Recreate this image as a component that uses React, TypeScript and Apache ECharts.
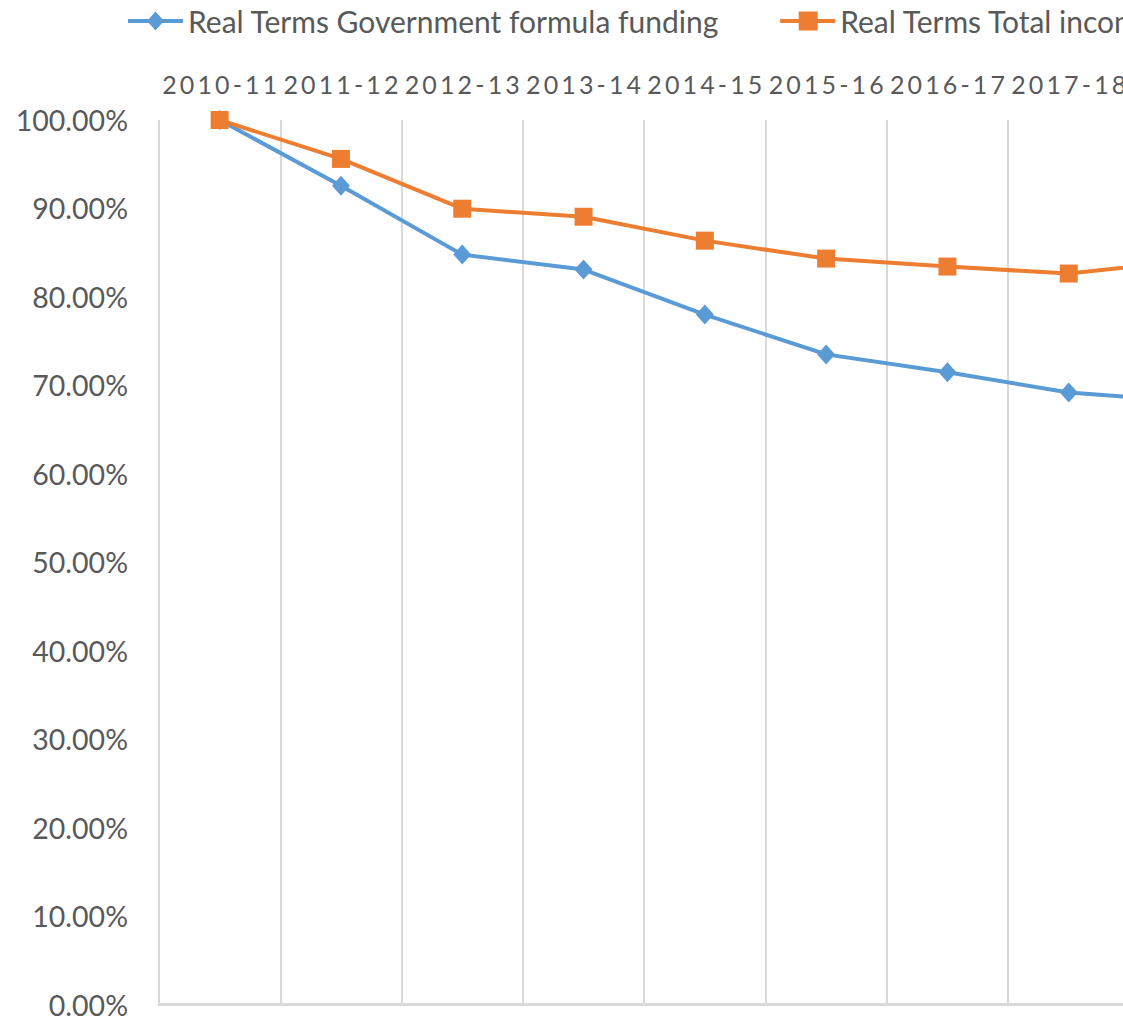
import React, { useEffect, useRef } from "react";
import * as echarts from "echarts";

const categories = ["2010-11", "2011-12", "2012-13", "2013-14", "2014-15", "2015-16", "2016-17", "2017-18", "2018-19"];
const govFunding = [100, 92.56, 84.78, 83.09, 78.0, 73.5, 71.48, 69.2, 68.2];
const totalIncome = [100, 95.6, 89.97, 89.06, 86.36, 84.33, 83.43, 82.64, 84.1];
const seriesNames = ["Real Terms Government formula funding", "Real Terms Total income"];

const FONT = "Lato, 'Open Sans', sans-serif";
const ICON_DIAMOND = "path://M0,7.5L55,7.5L55,11.5L0,11.5ZM27.5,0L36,9.5L27.5,19L19,9.5Z";
const ICON_SQUARE = "path://M0,7.5L55,7.5L55,11.5L0,11.5ZM18.5,0L37.5,0L37.5,19L18.5,19Z";

export default function App() {
  const ref = useRef<HTMLDivElement>(null);
  useEffect(() => {
    if (!ref.current) return;
    const chart = echarts.init(ref.current, undefined, { renderer: "svg" });
    chart.setOption({
      animation: false,
      backgroundColor: "#ffffff",
      legend: {
        left: 123,
        top: 1,
        itemWidth: 55,
        itemHeight: 19,
        itemGap: 61,
        textStyle: { fontSize: 30, color: "#595959", fontFamily: FONT },
        data: [
          { name: seriesNames[0], icon: ICON_DIAMOND },
          { name: seriesNames[1], icon: ICON_SQUARE },
        ],
      },
      grid: { left: 159, top: 120, height: 887, width: 9 * 121.3 },
      xAxis: {
        type: "category",
        position: "top",
        data: categories,
        boundaryGap: true,
        axisLine: { lineStyle: { color: "#d9d9d9", width: 3 } },
        axisTick: { show: false },
        axisLabel: {
          interval: 0,
          fontSize: 25,
          color: "#595959",
          fontFamily: FONT,
          margin: 24,
          formatter: (v: string) => v.split("").join("\u2009"),
        },
        splitLine: { show: true, interval: 0, lineStyle: { color: "#d9d9d9", width: 2 } },
      },
      yAxis: {
        type: "value",
        min: 0,
        max: 100,
        interval: 10,
        axisLine: { show: false },
        axisTick: { show: false },
        splitLine: { show: false },
        axisLabel: {
          fontSize: 28.5,
          color: "#595959",
          fontFamily: FONT,
          margin: 31,
          formatter: (v: number) => v.toFixed(2) + "%",
        },
      },
      series: [
        {
          name: seriesNames[0],
          type: "line",
          data: govFunding,
          symbol: "diamond",
          symbolSize: [18, 20],
          lineStyle: { width: 4, color: "#5b9bd5" },
          itemStyle: { color: "#5b9bd5" },
        },
        {
          name: seriesNames[1],
          type: "line",
          data: totalIncome,
          symbol: "rect",
          symbolSize: 18,
          lineStyle: { width: 4, color: "#ed7d31" },
          itemStyle: { color: "#ed7d31" },
        },
      ],
    });
    return () => chart.dispose();
  }, []);
  return (
    <div style={{ position: "fixed", left: 0, top: 0, width: 1123, height: 1019, overflow: "hidden", background: "#fff" }}>
      <div ref={ref} style={{ width: 1400, height: 1019 }} />
    </div>
  );
}
